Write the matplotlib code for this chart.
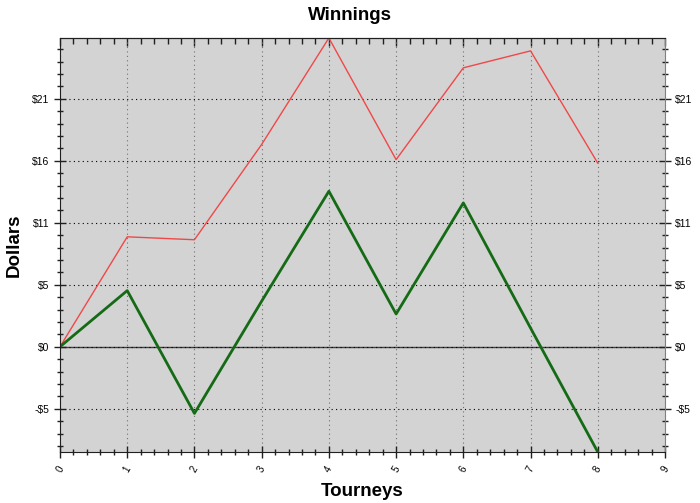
import matplotlib
matplotlib.use("Agg")
from matplotlib import pyplot as plt
from matplotlib.ticker import MultipleLocator, AutoMinorLocator, FuncFormatter, NullFormatter

plt.rcParams['font.family'] = ['Liberation Sans', 'DejaVu Sans']

# data
tourneys = [0, 1, 2, 3, 4, 5, 6, 7, 8]
red_vals = [0.0, 9.4, 9.15, 17.3, 26.4, 16.0, 23.85, 25.3, 15.7]
green_vals = [0.0, 4.8, -5.7, 3.9, 13.3, 2.8, 12.3, 1.6, -9.0]

fig = plt.figure(figsize=(7, 5.03), dpi=100)
ax = fig.add_axes([60/700, 1-452/503, 605/700, 414/503])
ax.set_facecolor('#d3d3d3')

ax.plot(tourneys, red_vals, color='#f04848', lw=1)
ax.plot(tourneys, green_vals, color='#156b15', lw=2)
ax.axhline(0, color='#404040', lw=1, zorder=1)

ax.set_xlim(0, 9)
ax.set_ylim(min(green_vals), max(red_vals))

ax.xaxis.set_major_locator(MultipleLocator(1))
ax.xaxis.set_minor_locator(AutoMinorLocator(5))
ax.yaxis.set_major_locator(MultipleLocator(5.3))
ax.yaxis.set_minor_locator(AutoMinorLocator(5))

def dollars(v, pos):
    r = int(round(v))
    if r < 0:
        return '-$%d' % (-r)
    return '$%d' % r
ax.yaxis.set_major_formatter(FuncFormatter(dollars))

ax.grid(axis='y', which='major', color='black', linestyle=(0, (1, 3)), lw=0.8)
ax.grid(axis='x', which='major', color='#707070', linestyle=(0, (1, 3)), lw=0.8)

ax.tick_params(which='both', direction='inout', right=True,
               labelright=True, labelsize=7.5, color='#202020')
ax.tick_params(which='major', length=8, width=1)
ax.tick_params(which='minor', length=5, width=1)
ax.tick_params(axis='x', which='major', labelsize=7, labelrotation=60, pad=5)
for lab in ax.get_xticklabels():
    lab.set_ha('center')
    lab.set_va('top')

# top ticks point inward only
top = ax.secondary_xaxis('top')
top.xaxis.set_major_locator(MultipleLocator(1))
top.xaxis.set_minor_locator(AutoMinorLocator(5))
top.xaxis.set_major_formatter(NullFormatter())
top.tick_params(which='both', direction='in', color='#202020', width=1)
top.tick_params(which='major', length=6)
top.tick_params(which='minor', length=4)
top.spines['top'].set_color('#202020')

for s in ['left', 'bottom', 'top']:
    ax.spines[s].set_color('#202020')
ax.spines['right'].set_color('#808080')

fig.text(350/700, 1-16/503, 'Winnings', ha='center', va='center',
         fontsize=13.5, fontweight='bold')
fig.text(14/700, 1-245/503, 'Dollars', ha='center', va='center',
         rotation=90, fontsize=13.5, fontweight='bold')
fig.text(362/700, 1-492/503, 'Tourneys', ha='center', va='center',
         fontsize=13.5, fontweight='bold')

fig.savefig('out.png', dpi=100)
